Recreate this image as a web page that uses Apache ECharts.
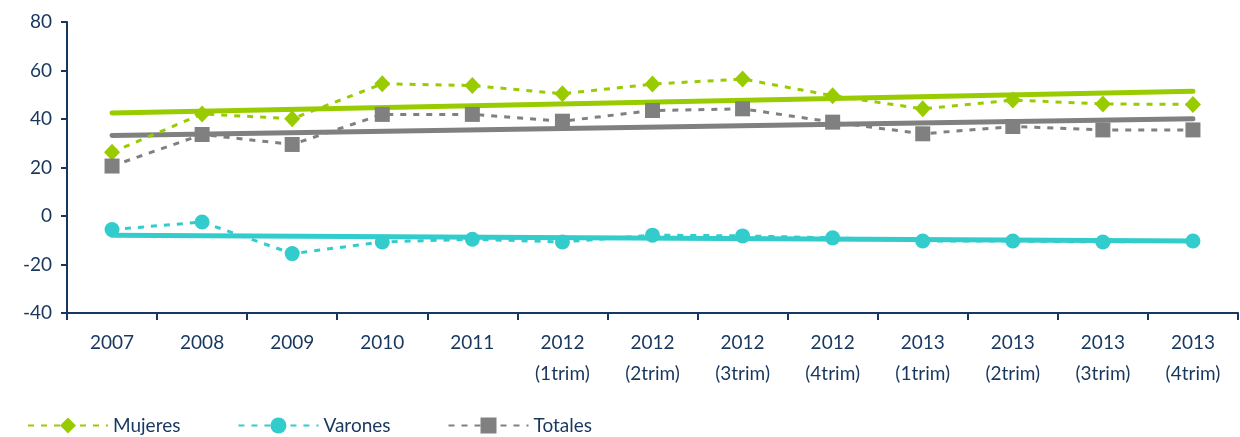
<!DOCTYPE html>
<html>
<head>
<meta charset="utf-8">
<script src="https://cdn.jsdelivr.net/npm/echarts@6/dist/echarts.min.js"></script>
<style>html,body{margin:0;padding:0;background:#fff}#c{width:1240px;height:437px}</style>
</head>
<body>
<div id="c"></div>
<script>
var categories = ['2007','2008','2009','2010','2011','2012\n(1trim)','2012\n(2trim)','2012\n(3trim)','2012\n(4trim)','2013\n(1trim)','2013\n(2trim)','2013\n(3trim)','2013\n(4trim)'];
var mujeres = [26.3, 42.1, 40.1, 54.5, 53.8, 50.4, 54.4, 56.5, 49.6, 44.2, 47.8, 46.2, 46.0];
var varones = [-5.6, -2.5, -15.5, -10.7, -9.6, -10.7, -7.9, -8.2, -9.0, -10.3, -10.3, -10.7, -10.3];
var totales = [20.6, 33.6, 29.5, 41.9, 41.9, 39.1, 43.5, 44.2, 38.7, 33.9, 36.9, 35.5, 35.5];
// trend line endpoints (first and last category)
var trendMujeres = [42.5, 51.4];
var trendVarones = [-7.9, -10.3];
var trendTotales = [33.2, 40.1];
var yTicks = {min: -40, max: 80, interval: 20};

var GREEN = '#99CC00', CYAN = '#33CCCC', GREY = '#808080', NAVY = '#17375E';
var FONT = 'Lato';

function dashed(name, data, color, symbol, size) {
  return {
    name: name, type: 'line', data: data, symbol: symbol, symbolSize: size,
    itemStyle: {color: color},
    lineStyle: {color: color, width: 3, type: [6, 7]},
    z: 3
  };
}
function trend(vals, color) {
  return {
    type: 'line', symbol: 'none', silent: true,
    data: [[categories[0], vals[0]], [categories[categories.length - 1], vals[1]]],
    lineStyle: {color: color, width: 5, cap: 'round'},
    z: 2
  };
}

var chart = echarts.init(document.getElementById('c'));
chart.setOption({
  animation: false,
  grid: {left: 67, right: 2, top: 22, bottom: 124},
  xAxis: {
    type: 'category', data: categories, boundaryGap: true,
    axisLine: {onZero: false, lineStyle: {color: NAVY, width: 2}},
    axisTick: {show: true, length: 7, lineStyle: {color: NAVY, width: 2}},
    axisLabel: {color: NAVY, fontFamily: FONT, fontSize: 19, margin: 14, lineHeight: 31, interval: 0}
  },
  yAxis: {
    type: 'value', min: yTicks.min, max: yTicks.max, interval: yTicks.interval,
    axisLine: {show: true, lineStyle: {color: NAVY, width: 2}},
    axisTick: {show: true, length: 6, lineStyle: {color: NAVY, width: 2}},
    splitLine: {show: false},
    axisLabel: {color: NAVY, fontFamily: FONT, fontSize: 19, margin: 15}
  },
  legend: {
    left: 22, top: 411, itemWidth: 80, itemHeight: 20, itemGap: 57,
    textStyle: {color: NAVY, fontFamily: FONT, fontSize: 19},
    data: ['Mujeres', 'Varones', 'Totales']
  },
  series: [
    trend(trendMujeres, GREEN),
    trend(trendVarones, CYAN),
    trend(trendTotales, GREY),
    dashed('Mujeres', mujeres, GREEN, 'diamond', [16, 17]),
    dashed('Varones', varones, CYAN, 'circle', 15),
    dashed('Totales', totales, GREY, 'rect', 15)
  ]
});
</script>
</body>
</html>
